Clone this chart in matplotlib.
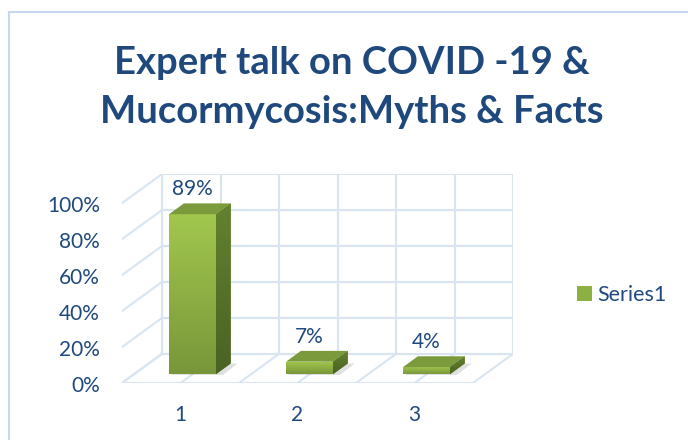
import numpy as np
import matplotlib
matplotlib.use("Agg")
import matplotlib.pyplot as plt
from matplotlib.patches import Polygon, Rectangle, Patch
from matplotlib.colors import LinearSegmentedColormap

categories = ["1", "2", "3"]
values = [0.89, 0.07, 0.04]
value_labels = ["89%", "7%", "4%"]
yticks = [0.0, 0.2, 0.4, 0.6, 0.8, 1.0]
ytick_labels = ["0%", "20%", "40%", "60%", "80%", "100%"]
series_name = "Series1"
title_lines = ["Expert talk on COVID -19 &", "Mucormycosis:Myths & Facts"]

FONT = ["Lato", "DejaVu Sans"]
plt.rcParams["font.family"] = FONT
TXT = "#1f497d"
GRID = "#d9e4f1"

W, H = 688, 440
fig = plt.figure(figsize=(W / 100, H / 100), dpi=100)

# chart border
fig.patches.append(Rectangle((9 / W, -0.1), 1.2, (H - 12) / H + 0.1, transform=fig.transFigure,
                             fill=False, edgecolor="#c6d9f0", lw=1.5))

# oblique depth offset in data units
DX = 40 / 117.0
DY = 29 / 179.0
PXX = 1 / 117.0   # one pixel in x data units
PXY = 1 / 179.0   # one pixel in y data units
left_px, right_px, bot_px, top_px = 122, 513, 383, 174
ax = fig.add_axes([left_px / W, (H - bot_px) / H, (right_px - left_px) / W, (bot_px - top_px) / H])
ax.axis("off")

x = np.arange(1, len(categories) + 1)
x0, x1 = 0.5, len(categories) + 0.5

# back wall
for v in yticks:
    ax.plot([x0 + DX, x1 + DX], [v + DY, v + DY], color=GRID, lw=1.5, zorder=1)
for xv in np.arange(x0, x1 + 0.01, 0.5):
    ax.plot([xv + DX, xv + DX], [DY, 1 + DY], color=GRID, lw=1.5, zorder=1)
# left wall
for v in yticks:
    ax.plot([x0, x0 + DX], [v, v + DY], color=GRID, lw=1.5, zorder=1)
# floor
ax.plot([x0, x1], [0, 0], color=GRID, lw=1.5, zorder=1)
for xv in np.arange(x0, x1 + 0.01, 0.5):
    ax.plot([xv, xv + DX], [0, DY], color=GRID, lw=1.5, zorder=1)

# tick labels
for v, lab in zip(yticks, ytick_labels):
    ax.text(x0 - 22 * PXX, v - 3 * PXY, lab, ha="right", va="center", fontsize=15, color=TXT)
for xi, lab in zip(x, categories):
    ax.text(xi, -32 * PXY, lab, ha="center", va="center", fontsize=15, color=TXT)

# bars
z0, z1 = 0.3, 0.67
w = 0.40
ddx, ddy = (z1 - z0) * DX, (z1 - z0) * DY
y0 = z0 * DY
bars = ax.bar(x + z0 * DX, values, width=w, bottom=y0, color="#8db043", edgecolor="none", zorder=3)
grad = np.linspace(0, 1, 100).reshape(-1, 1)
cm_front = LinearSegmentedColormap.from_list("f", ["#78973a", "#a2c74e"])
cm_side = LinearSegmentedColormap.from_list("s", ["#4a6223", "#63822f"])
for b, v, lab in zip(bars, values, value_labels):
    a = b.get_x()
    r = a + b.get_width()
    top = y0 + v
    # shadow
    ax.add_patch(Polygon([(a + 0.02, y0 - 0.004), (r + 0.06, y0 - 0.004), (r + ddx + 0.06, y0 + ddy),
                          (a + ddx, y0 + ddy)], closed=True, facecolor="#000000", alpha=0.12,
                         edgecolor="none", zorder=2))
    im = ax.imshow(grad, cmap=cm_front, extent=[a, r, y0, top], origin="lower", aspect="auto", zorder=3.1)
    im.set_clip_path(b)
    side = Polygon([(r, y0), (r + ddx, y0 + ddy), (r + ddx, top + ddy), (r, top)], closed=True,
                   facecolor="#5a772b", edgecolor="none", zorder=3)
    ax.add_patch(side)
    ims = ax.imshow(grad, cmap=cm_side, extent=[r, r + ddx, y0, top + ddy], origin="lower", aspect="auto",
                    zorder=3.1)
    ims.set_clip_path(side)
    ax.add_patch(Polygon([(a, top), (r, top), (r + ddx, top + ddy), (a + ddx, top + ddy)], closed=True,
                         facecolor="#7a9a3b", edgecolor="none", zorder=3.2))
    ax.text((a + r) / 2, top + ddy + 14 * PXY, lab, ha="center", va="center", fontsize=15,
            color=TXT, zorder=4)

ax.set_xlim(0.5, 3.5 + DX)
ax.set_ylim(0, 1 + DY)

# title
for line, ypx in zip(title_lines, [63, 112]):
    fig.text(352 / W, 1 - ypx / H, line, ha="center", va="center", fontsize=27.5, fontweight="bold",
             color=TXT)

# legend
fig.legend(handles=[Patch(facecolor="#8db043", edgecolor="none", label=series_name)],
           loc="center left", bbox_to_anchor=(566 / W, 1 - 295 / H), frameon=False,
           fontsize=15.5, handlelength=0.72, handleheight=0.7, handletextpad=0.25, borderpad=0,
           labelcolor=TXT)

fig.savefig("out.png", dpi=100)
